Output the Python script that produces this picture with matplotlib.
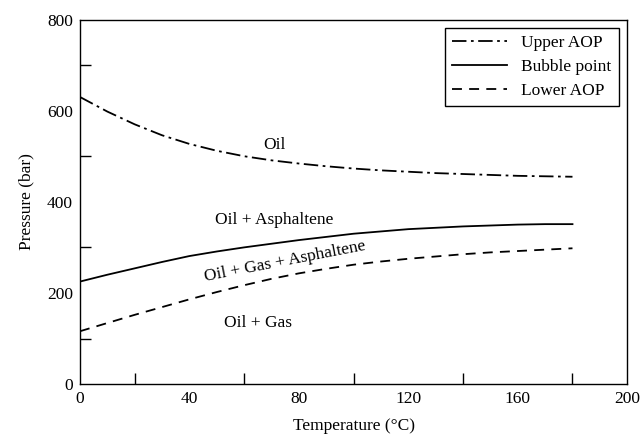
import matplotlib
matplotlib.use('Agg')
from matplotlib import pyplot as plt

# temperature (degC) and pressures (bar)
temp = [0, 10, 20, 30, 40, 50, 60, 70, 80, 90, 100, 110, 120, 130, 140, 150, 160, 170, 180]
upper_aop = [630, 598, 570, 546, 527, 512, 500, 491, 484, 478, 473, 469, 466, 463, 461, 459, 457, 456, 455]
bubble = [225, 240, 254, 268, 281, 291, 300, 308, 316, 323, 330, 335, 340, 343, 346, 348, 350, 351, 351]
lower_aop = [116, 134, 152, 169, 186, 202, 217, 231, 243, 253, 262, 269, 275, 280, 285, 289, 292, 295, 298]

plt.rcParams['font.family'] = ['Liberation Serif', 'DejaVu Serif']
plt.rcParams['font.size'] = 12.5

fig, ax = plt.subplots(figsize=(6.4, 4.34), dpi=100)
fig.subplots_adjust(left=0.125, right=0.98, bottom=0.115, top=0.955)

ax.plot(temp, upper_aop, color='black', lw=1.3, dashes=(8, 2.5, 1.5, 2.5), label='Upper AOP')
ax.plot(temp, bubble, color='black', lw=1.3, label='Bubble point')
ax.plot(temp, lower_aop, color='black', lw=1.3, dashes=(5.5, 4), label='Lower AOP')

ax.set_xlim(0, 200)
ax.set_ylim(0, 800)
# labels at the majors, tick marks only at the minors (like the original)
ax.set_xticks([0, 40, 80, 120, 160, 200])
ax.set_yticks([0, 200, 400, 600, 800])
ax.tick_params(which='major', length=0, pad=5, labelsize=12.5)
ax.set_xticks([20, 60, 100, 140, 180], minor=True)
ax.set_yticks([100, 300, 500, 700], minor=True)
ax.tick_params(which='minor', direction='in', length=8, width=1)
for s in ax.spines.values():
    s.set_linewidth(1)

ax.set_xlabel('Temperature (°C)', fontsize=12.5, labelpad=8)
ax.set_ylabel('Pressure (bar)', fontsize=12.5, labelpad=9)

ax.text(71, 524, 'Oil', ha='center', va='center', fontsize=12.5)
ax.text(71, 360, 'Oil + Asphaltene', ha='center', va='center', fontsize=12.5)
ax.text(75, 268, 'Oil + Gas + Asphaltene', ha='center', va='center', fontsize=12.5, rotation=11)
ax.text(65, 134, 'Oil + Gas', ha='center', va='center', fontsize=12.5)

leg = ax.legend(loc='upper right', fontsize=12.5, fancybox=False, framealpha=1,
                edgecolor='black', handlelength=3.2, borderaxespad=0.5,
                labelspacing=0.45, handletextpad=0.8, borderpad=0.4)
leg.get_frame().set_linewidth(1)

fig.savefig('out.png', dpi=100)
